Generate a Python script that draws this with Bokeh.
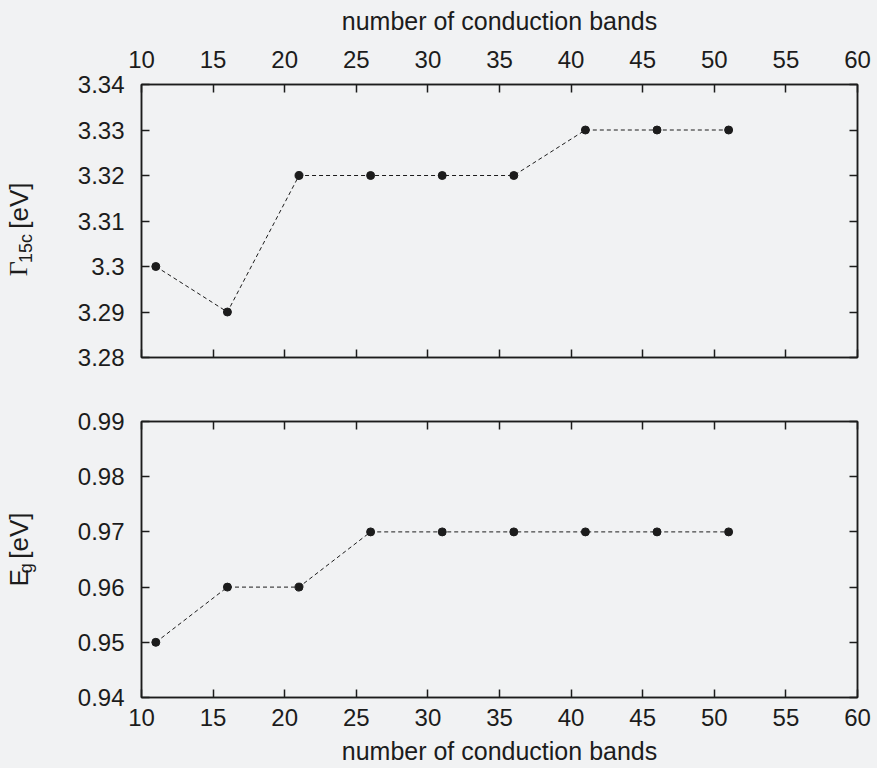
import math

from bokeh.core.properties import value
from bokeh.embed import file_html
from bokeh.layouts import column, row
from bokeh.models import ColumnDataSource, FixedTicker, LinearAxis, Range1d
from bokeh.plotting import figure
from bokeh.resources import INLINE

# --- data -------------------------------------------------------------
bands = [11, 16, 21, 26, 31, 36, 41, 46, 51]
gamma15c = [3.30, 3.29, 3.32, 3.32, 3.32, 3.32, 3.33, 3.33, 3.33]
eg = [0.95, 0.96, 0.96, 0.97, 0.97, 0.97, 0.97, 0.97, 0.97]

x_ticks = [10, 15, 20, 25, 30, 35, 40, 45, 50, 55, 60]
gamma_ticks = [3.28, 3.29, 3.30, 3.31, 3.32, 3.33, 3.34]
gamma_tick_labels = ["3.28", "3.29", "3.3", "3.31", "3.32", "3.33", "3.34"]
eg_ticks = [0.94, 0.95, 0.96, 0.97, 0.98, 0.99]
eg_tick_labels = ["0.94", "0.95", "0.96", "0.97", "0.98", "0.99"]
x_title = "number of conduction bands"

# --- style ------------------------------------------------------------
BG = "#f1f2f3"
INK = "#1c1c1c"
SANS = "Liberation Sans"
SERIF = "Liberation Serif"
TICK_PX = "24px"
TITLE_PX = "25px"
FRAME_W = 716
LABEL_W = 45          # strip that carries the rotated y titles


def style_axis(ax, show_labels):
    ax.axis_line_color = INK
    ax.axis_line_width = 1.5
    ax.major_tick_line_color = INK
    ax.major_tick_line_width = 1.5
    ax.major_tick_in = 8
    ax.major_tick_out = 0
    ax.minor_tick_line_color = None
    ax.major_label_text_font = SANS
    ax.axis_label_text_font = SANS
    ax.axis_label_text_font_style = "normal"
    ax.axis_label_text_color = INK
    ax.axis_label_text_font_size = TITLE_PX
    if show_labels:
        ax.major_label_text_font_size = TICK_PX
        ax.major_label_text_color = INK
    else:
        ax.major_label_text_font_size = "1px"
        ax.major_label_text_color = None
        ax.major_label_standoff = 0


def make_panel(values, y_ticks, y_labels, frame_h, border_top, border_bottom, x_side):
    p = figure(
        frame_width=FRAME_W,
        frame_height=frame_h,
        min_border_left=141 - LABEL_W,
        min_border_right=20,
        min_border_top=border_top,
        min_border_bottom=border_bottom,
        x_range=Range1d(x_ticks[0], x_ticks[-1]),
        y_range=Range1d(y_ticks[0], y_ticks[-1]),
        x_axis_location=x_side,
        output_backend="svg",
        toolbar_location=None,
        background_fill_color=BG,
        border_fill_color=BG,
        outline_line_color=INK,
        outline_line_width=1.5,
    )
    p.grid.visible = False

    # labelled x axis (above or below) and its unlabelled mirror
    xa = p.xaxis[0]
    xa.ticker = FixedTicker(ticks=x_ticks)
    style_axis(xa, True)
    xa.axis_label = x_title
    if x_side == "above":
        xa.major_label_standoff = 17
        xa.axis_label_standoff = 13
    else:
        xa.major_label_standoff = 11
        xa.axis_label_standoff = 8
    mirror_x = LinearAxis(ticker=FixedTicker(ticks=x_ticks))
    style_axis(mirror_x, False)
    p.add_layout(mirror_x, "below" if x_side == "above" else "above")

    # labelled y axis on the left, mirrored ticks on the right
    ya = p.yaxis[0]
    ya.ticker = FixedTicker(ticks=y_ticks)
    ya.major_label_overrides = {t: lab for t, lab in zip(y_ticks, y_labels)}
    style_axis(ya, True)
    ya.major_label_standoff = 17
    mirror_y = LinearAxis(ticker=FixedTicker(ticks=y_ticks))
    style_axis(mirror_y, False)
    p.add_layout(mirror_y, "right")

    src = ColumnDataSource(data=dict(x=bands, y=values))
    p.line("x", "y", source=src, line_color=INK, line_width=1, line_dash="4 3")
    p.scatter("x", "y", source=src, size=8, fill_color=INK, line_color=INK)
    return p


def title_strip(height, pieces):
    """Narrow pixel-scaled figure holding a rotated, partly subscripted y title."""
    s = figure(
        width=LABEL_W, height=height, min_border=0,
        x_range=Range1d(0, LABEL_W), y_range=Range1d(0, height),
        x_axis_location=None, y_axis_location=None,
        output_backend="svg", toolbar_location=None,
        background_fill_color=BG, border_fill_color=BG, outline_line_color=None,
    )
    s.grid.visible = False
    for text, x, y, font, size in pieces:
        s.text(
            x=[x], y=[y], text=[text], angle=math.pi / 2,
            text_font=value(font), text_font_size=value(size), text_color=INK,
            text_align="left", text_baseline="alphabetic",
        )
    return s


# upper panel: Gamma_15c  (390 px tall)
top = make_panel(gamma15c, gamma_ticks, gamma_tick_labels, 273, 84, 33, "above")
top_title = title_strip(390, [
    ("Γ", 18, 116, SERIF, "26px"),
    ("15c", 25, 135, SANS, "18px"),
    ("[eV]", 18, 184, SANS, "26px"),
])

# lower panel: band gap E_g  (378 px tall)
bottom = make_panel(eg, eg_ticks, eg_tick_labels, 276, 31, 71, "below")
bottom_title = title_strip(378, [
    ("E", 18, 152, SANS, "26px"),
    ("g", 25, 170, SANS, "18px"),
    ("[eV]", 18, 190, SANS, "26px"),
])

layout = column(
    row(top_title, top, spacing=0),
    row(bottom_title, bottom, spacing=0),
    spacing=0,
    styles={"background-color": BG},
)

html = file_html(layout, INLINE, title="conduction bands convergence")
html = html.replace("<body>", f'<body style="margin:0;background:{BG}">')
open("out.html", "w").write(html)
